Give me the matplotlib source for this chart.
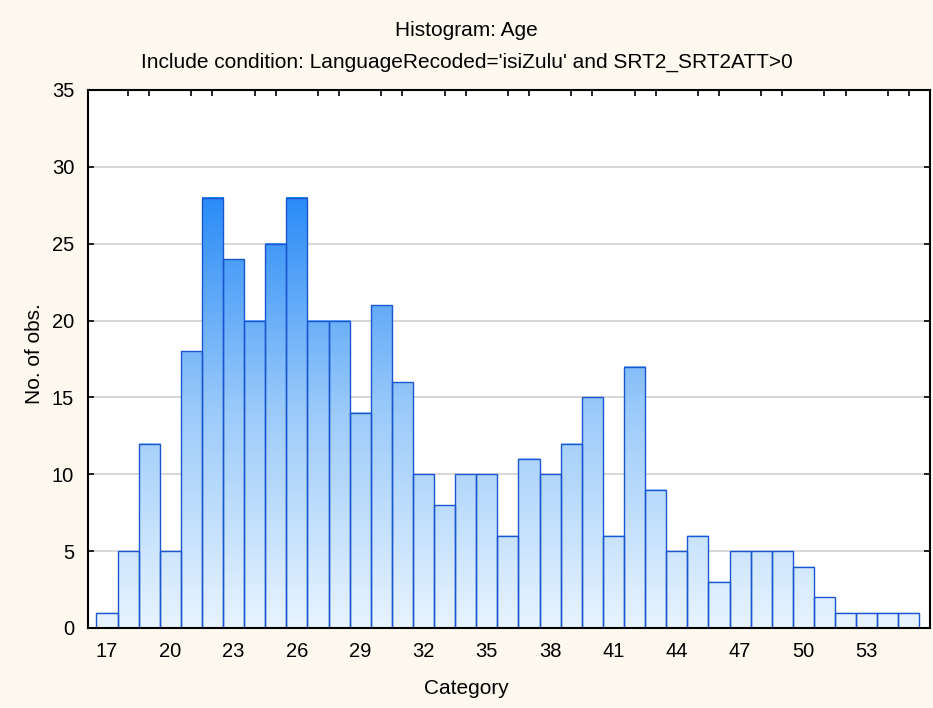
import numpy as np
import matplotlib.pyplot as plt
from matplotlib.colors import LinearSegmentedColormap

plt.rcParams['font.family'] = ['Liberation Sans', 'DejaVu Sans']

ages = list(range(17, 56))
counts = [1, 5, 12, 5, 18, 28, 24, 20, 25, 28, 20, 20, 14, 21, 16, 10, 8, 10, 10, 6,
          11, 10, 12, 15, 6, 17, 9, 5, 6, 3, 5, 5, 5, 4, 2, 1, 1, 1, 1]
xtick_vals = list(range(17, 54, 3))
ytick_vals = list(range(0, 36, 5))

BG = '#fdf9ee'
EDGE = '#1a56d0'
cmap = LinearSegmentedColormap.from_list('blu', ['#e8f4ff', '#9ccbfa', '#2b8cf7'])

fig = plt.figure(figsize=(9.33, 7.08), dpi=100, facecolor=BG)
ax = fig.add_axes([0.0943, 0.113, 0.9025, 0.760])
ax.set_facecolor('white')

# gradient fill, colour depends on the height in data units
for a, c in zip(ages, counts):
    grad = np.linspace(0, c, 200).reshape(-1, 1)
    ax.imshow(grad, cmap=cmap, vmin=0, vmax=28, origin='lower', aspect='auto',
              extent=(a - 0.5, a + 0.5, 0, c), zorder=2, interpolation='bilinear')

ax.bar(ages, counts, width=1.0, fill=False, edgecolor=EDGE, linewidth=1.0, zorder=3)

ax.set_xlim(16.1, 56.0)
ax.set_ylim(0, 35)

for y in ytick_vals[1:-1]:
    ax.axhline(y, color='#d4d4d4', linewidth=1.3, zorder=1)

ax.set_xticks(xtick_vals)
ax.set_xticks(ages, minor=True)
ax.set_yticks(ytick_vals)
ax.tick_params(axis='x', which='both', direction='in', top=True, length=4, width=1.2,
               labelsize=14.5, pad=10)
ax.tick_params(axis='x', which='major', length=0)
ax.tick_params(axis='y', direction='in', right=True, length=4, width=1.2,
               labelsize=14.5, pad=10)
for s in ax.spines.values():
    s.set_linewidth(1.5)
    s.set_color('black')
    s.set_zorder(5)

fig.text(0.5, 1 - 31 / 708, 'Histogram: Age', ha='center', va='center', fontsize=15)
fig.text(0.5, 1 - 62 / 708,
         "Include condition: LanguageRecoded='isiZulu' and SRT2_SRT2ATT>0",
         ha='center', va='center', fontsize=15)
fig.text(0.5, 1 - 689 / 708, 'Category', ha='center', va='center', fontsize=15)
fig.text(34 / 933, 0.5, 'No. of obs.', ha='center', va='center', rotation=90, fontsize=15)

fig.savefig('out.png', dpi=100, facecolor=BG)
